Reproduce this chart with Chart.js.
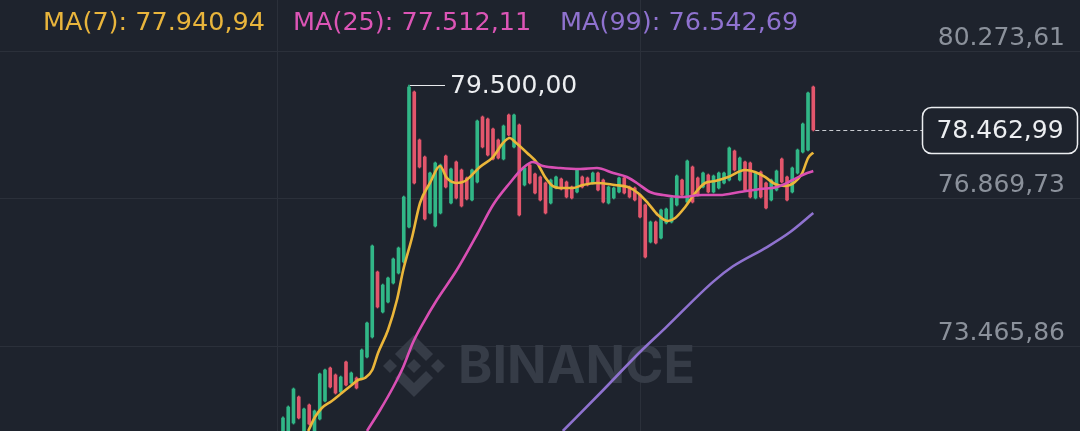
<!DOCTYPE html>
<html lang="en">
<head>
<meta charset="UTF-8">
<title>BTC/USDT</title>
<script src="https://cdn.jsdelivr.net/npm/chart.js"></script>
<style>
  html, body { margin: 0; padding: 0; background: #1e232d; }
  body { width: 1080px; height: 431px; overflow: hidden; position: relative; font-family: "DejaVu Sans", sans-serif; }
  #chart { position: absolute; left: 0; top: 0; }
  .ma { position: absolute; top: 6px; font-size: 25.5px; line-height: 30px; white-space: nowrap; }
</style>
</head>
<body>
<canvas id="chart" width="1080" height="431"></canvas>
<div class="ma" style="left:43px;color:#e9b53c">MA(7): 77.940,94</div>
<div class="ma" style="left:293px;color:#dc55b6">MA(25): 77.512,11</div>
<div class="ma" style="left:560px;color:#8f72cf">MA(99): 76.542,69</div>
<script>
// candles, oldest first (x = candle number)
const opens = [71176, 71176, 71685, 72287, 71176, 72102, 71176, 71778, 72194, 72957,
  72796, 72402, 73096, 72610, 72726, 72726, 73212, 73675, 75178, 74253,
  74484, 74924, 75155, 75409, 76219, 79342, 78232, 77838, 76543, 76242,
  76543, 77861, 76774, 77723, 77538, 77353, 76844, 77260, 78764, 78717,
  78486, 78232, 77792, 78810, 78070, 78579, 77191, 77653, 77445, 77376,
  77237, 76774, 77121, 77329, 77260, 77144, 77029, 77376, 77353, 77237,
  77468, 77306, 76774, 76890, 77029, 77353, 77144, 77121, 76959, 76728,
  75872, 76335, 75965, 76312, 76335, 76728, 77306, 76797, 77607, 77353,
  77144, 77422, 77029, 77121, 77237, 77306, 77977, 77306, 77723, 77700,
  76890, 77491, 77237, 76844, 77075, 77792, 77376, 77029, 77468, 77954,
  78000, 79458];
const highs = [71825, 72080, 72495, 72310, 72030, 72125, 71985, 72840, 72935, 72980,
  72820, 72772, 73120, 72865, 72750, 73398, 74022, 75803, 75200, 74900,
  75062, 75502, 75756, 76936, 79500, 79365, 78255, 77861, 77491, 77722,
  77676, 77884, 77584, 77746, 77561, 77376, 77561, 78694, 78787, 78740,
  78509, 78255, 78578, 78833, 78833, 78602, 77607, 77676, 77468, 77399,
  77260, 77329, 77399, 77352, 77283, 77167, 77561, 77399, 77376, 77491,
  77491, 77329, 77167, 77144, 77376, 77376, 77167, 77144, 76982, 76751,
  76358, 76358, 76635, 76658, 76913, 77422, 77329, 77769, 77630, 77376,
  77491, 77445, 77422, 77491, 77491, 78070, 78000, 77838, 77746, 77723,
  77491, 77514, 77260, 77329, 77537, 77815, 77399, 77607, 78023, 78625,
  79342, 79480];
const lows = [71150, 71150, 71660, 71778, 71150, 71640, 71150, 71755, 72170, 72495,
  72355, 72380, 72540, 72588, 72472, 72703, 73190, 73650, 74345, 74230,
  74460, 74900, 75132, 75386, 76196, 77214, 77584, 76381, 76520, 76219,
  76520, 77121, 76751, 76867, 76682, 76844, 76820, 77237, 78047, 77862,
  77769, 77792, 77769, 78324, 78047, 76474, 77168, 77214, 76983, 76821,
  76520, 76751, 77098, 77075, 76890, 76867, 77006, 77121, 77168, 77214,
  77052, 76774, 76751, 76867, 77006, 76983, 76890, 76821, 76427, 75502,
  75849, 75826, 75942, 76289, 76312, 76705, 76936, 76774, 76774, 76936,
  77121, 77006, 77006, 77098, 77214, 77283, 77515, 77283, 77052, 76890,
  76867, 76890, 76636, 76821, 77052, 77237, 76821, 77006, 77445, 77931,
  77977, 78440];
const closes = [71801, 72055, 72472, 71801, 72009, 71662, 71963, 72819, 72911, 72518,
  72379, 72749, 72564, 72842, 72495, 73374, 73998, 75780, 74369, 74877,
  75039, 75479, 75733, 76913, 79457, 77237, 77607, 76404, 77468, 77700,
  77653, 77144, 77561, 76890, 76705, 76867, 77538, 78671, 78070, 77885,
  77792, 77815, 78555, 78347, 78810, 76497, 77584, 77237, 77006, 76844,
  76543, 77306, 77376, 77098, 76913, 76890, 77538, 77144, 77191, 77468,
  77075, 76797, 77144, 77121, 77353, 77006, 76913, 76844, 76450, 75525,
  76335, 75849, 76612, 76635, 76890, 77399, 76959, 77746, 76797, 76959,
  77468, 77029, 77399, 77468, 77468, 78047, 77538, 77815, 77075, 76913,
  77468, 76913, 76659, 77306, 77514, 77260, 76844, 77584, 78000, 78602,
  79319, 78462.99];

// moving averages (position in candles, value)
const ma7At = [4.8, 6.1, 7.4, 9.3, 11.2, 13.1, 14.3, 15.6, 17.0, 18.1, 20.0, 21.7, 22.9, 24.6, 26.1,
  28.0, 29.9, 31.2, 33.0, 34.7, 37.5, 40.0, 41.9, 43.2, 44.2, 46.5, 48.4, 49.9, 51.4, 53.3,
  55.2, 57.1, 59.8, 63.2, 65.7, 67.6, 69.5, 71.4, 73.3, 74.7, 76.6, 78.5, 80.4, 82.3, 84.8,
  88.0, 89.9, 91.8, 93.7, 95.6, 97.5, 98.9, 100.0, 101];
const ma7 = [71500, 71824, 72032, 72194, 72379, 72564, 72680, 72726, 72911, 73304, 73836, 74530, 75224, 75988, 76774,
  77237, 77630, 77353, 77237, 77283, 77607, 77838, 78162, 78278, 78185, 77931, 77700, 77376, 77167, 77121,
  77121, 77191, 77237, 77191, 77144, 77006, 76774, 76497, 76358, 76427, 76682, 77006, 77237, 77283, 77376,
  77538, 77491, 77376, 77214, 77167, 77260, 77468, 77815, 77940.94];
const ma25At = [16.0, 18.5, 21.0, 22.9, 24.8, 26.7, 29.3, 33.1, 37.0, 40.0, 43.2, 45.7, 47.6, 49.5, 52.8,
  56.6, 59.8, 62.9, 65.5, 67.4, 69.9, 72.4, 76.0, 79.8, 83.2, 87.0, 90.9, 94.1, 97.1, 99.4, 101];
const ma25 = [71500, 71986, 72518, 72981, 73559, 73998, 74530, 75224, 76057, 76728, 77237, 77584, 77723, 77630, 77584,
  77561, 77584, 77468, 77376, 77237, 77029, 76959, 76913, 76959, 76959, 77029, 77098, 77144, 77306, 77445, 77512.11];
const ma99At = [53.3, 61.0, 68.0, 72.8, 81.9, 85.7, 92.2, 96.6, 101];
const ma99 = [71500, 72449, 73327, 73880, 74950, 75310, 75756, 76103, 76542.69];

const yTicks = [73465.86, 76869.73, 80273.61];
const yTickLabels = ['73.465,86', '76.869,73', '80.273,61'];
const timeGrid = [-1, 68];
const highLabel = '79.500,00';
const lastLabel = '78.462,99';

const UP = '#31b787';
const DOWN = '#e3566c';
const candleColors = closes.map((c, i) => c >= opens[i] ? UP : DOWN);

// Binance mark, 126.6 units square
const logoParts = [
  [[38.73,53.2],[63.3,28.63],[87.89,53.22],[102.19,38.92],[63.3,0],[24.42,38.91]],
  [[0,63.31],[14.3,49.01],[28.6,63.31],[14.3,77.61]],
  [[48.84,63.31],[63.3,48.85],[77.77,63.31],[63.3,77.77]],
  [[98,63.31],[112.3,49.01],[126.6,63.31],[112.3,77.61]],
  [[38.73,73.41],[63.3,97.98],[87.89,73.39],[102.19,87.69],[63.3,126.61],[24.42,87.7]]
];

const overlay = {
  id: 'overlay',
  beforeDatasetsDraw(chart) {
    const ctx = chart.ctx;
    ctx.save();
    ctx.fillStyle = '#363c47';
    const s = 62 / 126.6, ox = 383, oy = 335;
    logoParts.forEach(p => {
      ctx.beginPath();
      p.forEach(([x, y], k) => k ? ctx.lineTo(ox + x * s, oy + y * s) : ctx.moveTo(ox + x * s, oy + y * s));
      ctx.closePath();
      ctx.fill();
    });
    ctx.font = 'bold 52px Inter';
    ctx.textBaseline = 'alphabetic';
    ctx.fillText('BINANCE', 458, 383);
    ctx.restore();
  },
  afterDatasetsDraw(chart) {
    const ctx = chart.ctx;
    const xs = chart.scales.x, ys = chart.scales.y;
    ctx.save();
    // highest high marker
    let hi = 0;
    highs.forEach((h, i) => { if (h > highs[hi]) hi = i; });
    const hx = Math.round(xs.getPixelForValue(hi)), hy = Math.round(ys.getPixelForValue(highs[hi])) + 0.5;
    ctx.strokeStyle = '#e8eaed';
    ctx.lineWidth = 1;
    ctx.beginPath();
    ctx.moveTo(hx + 1, hy);
    ctx.lineTo(hx + 36, hy);
    ctx.stroke();
    ctx.fillStyle = '#eceef1';
    ctx.font = '25px "DejaVu Sans"';
    ctx.textBaseline = 'middle';
    ctx.fillText(highLabel, hx + 41, hy + 1);
    // last price line and box
    const li = closes.length - 1;
    const lx = xs.getPixelForValue(li) + 2, ly = Math.round(ys.getPixelForValue(closes[li])) + 0.5;
    ctx.setLineDash([4, 3]);
    ctx.strokeStyle = '#c9ccd1';
    ctx.beginPath();
    ctx.moveTo(lx, ly);
    ctx.lineTo(922, ly);
    ctx.stroke();
    ctx.setLineDash([]);
    ctx.strokeStyle = '#eceef1';
    ctx.lineWidth = 1.5;
    ctx.beginPath();
    ctx.roundRect(922.5, ly - 23, 155, 46, 9);
    ctx.stroke();
    ctx.textAlign = 'center';
    ctx.fillText(lastLabel, 1000, ly + 1);
    ctx.restore();
  }
};

const line = (at, vals, color) => ({
  type: 'line',
  data: at.map((x, k) => ({ x: x, y: vals[k] })),
  borderColor: color,
  borderWidth: 2.6,
  pointRadius: 0,
  cubicInterpolationMode: 'monotone',
  fill: false,
  order: 0
});

new Chart(document.getElementById('chart'), {
  type: 'bar',
  data: {
    datasets: [
      line(ma99At, ma99, '#8f72cf'),
      line(ma25At, ma25, '#d94fb4'),
      line(ma7At, ma7, '#ebb63a'),
      {
        data: closes.map((c, i) => ({ x: i, y: [opens[i], c] })),
        backgroundColor: candleColors,
        barThickness: 3,
        grouped: false,
        borderWidth: 0,
        order: 1
      },
      {
        data: highs.map((h, i) => ({ x: i, y: [lows[i], h] })),
        backgroundColor: candleColors,
        barThickness: 1,
        grouped: false,
        borderWidth: 0,
        order: 2
      }
    ]
  },
  options: {
    responsive: false,
    animation: false,
    layout: { padding: 0, autoPadding: false },
    plugins: { legend: { display: false }, tooltip: { enabled: false } },
    scales: {
      x: {
        type: 'linear',
        offset: false,
        min: -53.9,
        max: 151.8,
        afterBuildTicks: s => { s.ticks = timeGrid.map(v => ({ value: v })); },
        afterFit: s => { s.height = 0; },
        ticks: { display: false },
        grid: { color: '#2b303a', drawTicks: false, offset: false },
        border: { display: false }
      },
      y: {
        type: 'linear',
        position: 'right',
        min: 71500,
        max: 81470,
        afterBuildTicks: s => { s.ticks = yTicks.map(v => ({ value: v })); },
        afterFit: s => { s.width = 0; },
        ticks: {
          mirror: true,
          padding: -15,
          labelOffset: -13,
          color: '#8b919b',
          font: { family: 'DejaVu Sans', size: 25 },
          callback: (v, i) => yTickLabels[i]
        },
        grid: { color: '#2b303a', drawTicks: false },
        border: { display: false }
      }
    }
  },
  plugins: [overlay]
});
</script>
</body>
</html>
